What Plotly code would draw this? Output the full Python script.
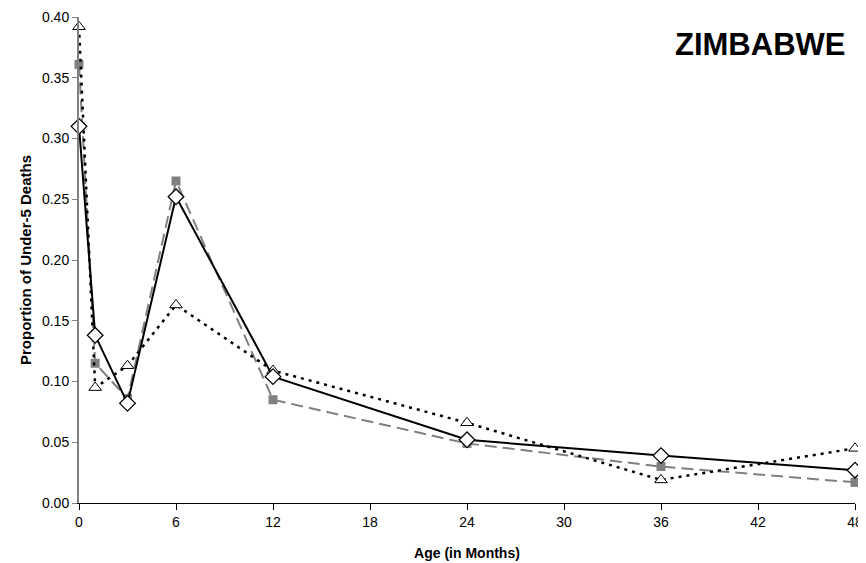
import plotly.graph_objects as go

ages = [0, 1, 3, 6, 12, 24, 36, 48]
series_diamond = [0.310, 0.138, 0.082, 0.252, 0.104, 0.052, 0.039, 0.027]
series_square = [0.361, 0.115, 0.086, 0.265, 0.085, 0.049, 0.030, 0.017]
series_triangle = [0.392, 0.095, 0.113, 0.163, 0.109, 0.066, 0.019, 0.045]
x_ticks = [0, 6, 12, 18, 24, 30, 36, 42, 48]
y_ticks = [0.00, 0.05, 0.10, 0.15, 0.20, 0.25, 0.30, 0.35, 0.40]

fig = go.Figure()
fig.add_trace(go.Scatter(
    x=ages, y=series_square, mode="lines+markers", cliponaxis=False,
    line=dict(color="#808080", width=2, dash="12px,6px"),
    marker=dict(symbol="square", size=9, color="#808080"),
))
fig.add_trace(go.Scatter(
    x=ages, y=series_triangle, mode="lines+markers", cliponaxis=False,
    line=dict(color="black", width=2.5, dash="3px,5px"),
    marker=dict(symbol="triangle-up", size=11, color="white", line=dict(color="black", width=1)),
))
fig.add_trace(go.Scatter(
    x=ages, y=series_diamond, mode="lines+markers", cliponaxis=False,
    line=dict(color="black", width=2),
    marker=dict(symbol="diamond", size=12, color="white", line=dict(color="black", width=1.3)),
))

# the page body adds an 8px offset; the figure is sized to compensate
fig.update_layout(
    width=858, height=555,
    margin=dict(l=71, r=11, t=9, b=60),
    paper_bgcolor="white", plot_bgcolor="white",
    showlegend=False,
    font=dict(family="Liberation Sans, Arial, sans-serif", size=14, color="black"),
    annotations=[dict(
        text="<b>ZIMBABWE</b>", x=1, y=1, xref="paper", yref="paper",
        xanchor="right", yanchor="middle", xshift=-8, yshift=-27, showarrow=False,
        font=dict(size=31, color="black", family="Liberation Sans, Arial, sans-serif"),
    )],
)
fig.update_xaxes(
    range=[0, 48], tickvals=x_ticks, ticktext=[str(v) for v in x_ticks],
    showgrid=False, zeroline=False, showline=True, linecolor="black", linewidth=1,
    ticks="outside", ticklen=6, tickcolor="black", automargin=False,
    tickfont=dict(size=14),
    title=dict(text="<b>Age (in Months)</b>", font=dict(size=14), standoff=19),
)
fig.update_yaxes(
    range=[0, 0.40], tickvals=y_ticks, ticktext=[f"{v:.2f}" for v in y_ticks],
    showgrid=False, zeroline=False, showline=True, linecolor="#808080", linewidth=2,
    ticks="outside", ticklen=5, tickcolor="#808080", automargin=False,
    tickfont=dict(size=14),
    title=dict(text="<b>Proportion of Under-5 Deaths</b>", font=dict(size=15), standoff=7),
)

fig.write_html("out.html")
